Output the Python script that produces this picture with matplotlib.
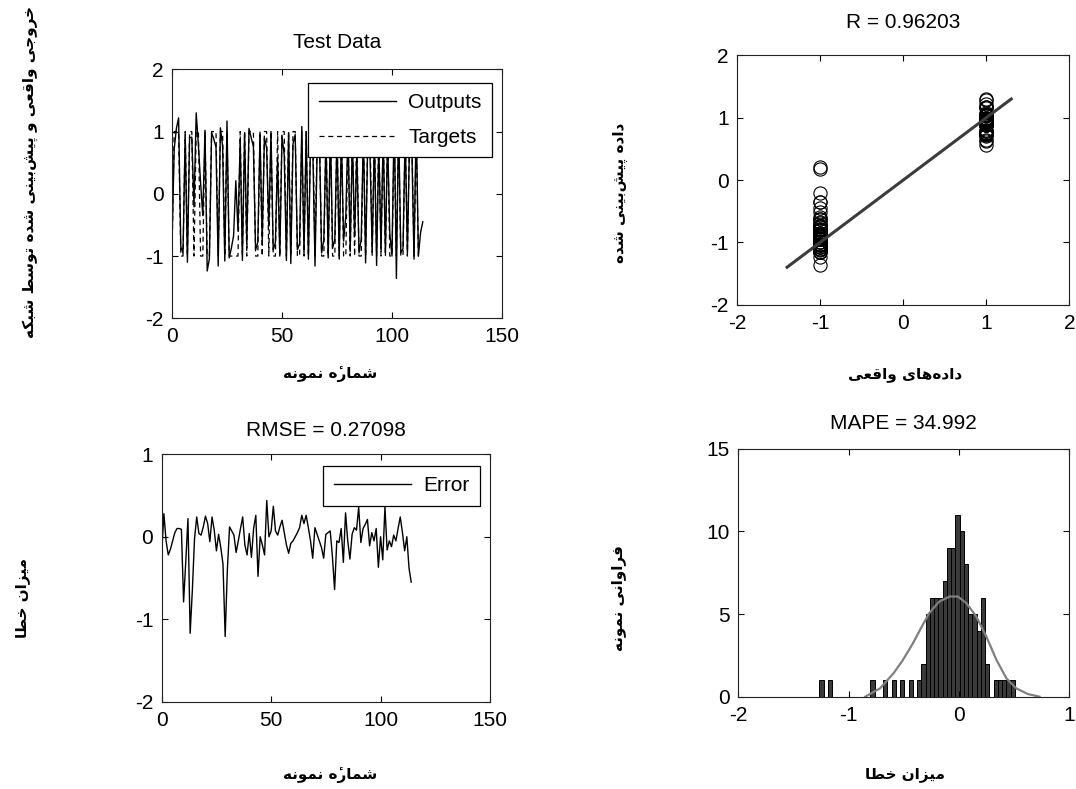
import matplotlib
matplotlib.use("Agg")
import matplotlib.pyplot as plt

plt.rcParams['font.family'] = ['Liberation Sans', 'DejaVu Sans']
plt.rcParams['axes.unicode_minus'] = False

# ---------------- data ----------------
targets = [-1, 1, 1, 1, -1, -1, 1, -1, 1, 1,
           -1, 1, 1, -1, -1, 1, -1, -1, 1, 1,
           1, -1, 1, 1, -1, 1, -1, -1, -1, -1,
           -1, 1, -1, 1, -1, 1, 1, 1, -1, -1,
           1, -1, 1, 1, -1, 1, -1, -1, 1, -1,
           1, 1, -1, 1, -1, 1, 1, -1, -1, 1,
           -1, 1, -1, 1, 1, -1, 1, 1, -1, -1,
           1, -1, 1, -1, -1, 1, -1, 1, -1, -1,
           1, -1, 1, -1, 1, -1, -1, 1, -1, 1,
           1, -1, 1, -1, 1, -1, 1, -1, 1, -1,
           -1, 1, -1, 1, -1, -1, 1, -1, 1, 1,
           -1, 1, -1, -1, -1]

outputs = [-0.80, 0.72, 1.05, 1.22, -0.85, -0.95, 0.95, -1.10, 0.90, 0.91,
           -0.21, 1.30, 0.78, 0.17, -0.35, 1.02, -1.24, -1.04, 0.98, 0.88,
           0.75, -1.16, 1.06, 0.76, -1.08, 1.17, -1.03, -0.87, -0.67, 0.21,
           -0.60, 0.88, -1.07, 0.98, -0.81, 1.05, 0.90, 0.76, -0.90, -0.78,
           0.96, -0.75, 0.90, 0.74, -0.52, 1.00, -0.90, -0.78, 0.56, -1.00,
           0.93, 0.63, -1.07, 0.98, -1.12, 0.80, 0.95, -0.90, -0.80, 1.08,
           -0.95, 1.00, -1.05, 0.89, 0.74, -1.16, 0.74, 0.89, -0.95, -0.74,
           0.89, -1.03, 1.05, -0.87, -0.74, 0.97, -1.05, 0.93, -0.76, -0.36,
           1.05, -0.93, 0.90, -0.69, 0.71, -0.95, -0.73, 0.97, -1.11, 0.92,
           0.64, -0.93, 0.90, -1.15, 0.79, -0.89, 0.95, -0.95, 0.90, -0.63,
           -1.00, 1.28, -1.36, 1.16, -0.95, -0.88, 0.98, -0.95, 0.90, 0.76,
           -1.05, 1.17, -1.00, -0.62, -0.45]

errors = [-0.20, 0.28, -0.05, -0.22, -0.15, -0.05, 0.05, 0.10, 0.10, 0.09,
          -0.79, -0.30, 0.22, -1.17, -0.65, -0.02, 0.24, 0.04, 0.02, 0.12,
          0.25, 0.16, -0.06, 0.24, 0.08, -0.17, 0.03, -0.13, -0.33, -1.21,
          -0.40, 0.12, 0.07, 0.02, -0.19, -0.05, 0.10, 0.24, -0.10, -0.22,
          0.04, -0.25, 0.10, 0.26, -0.48, 0.00, -0.10, -0.22, 0.44, 0.00,
          0.07, 0.37, 0.07, 0.02, 0.12, 0.20, 0.05, -0.10, -0.20, -0.08,
          -0.05, 0.00, 0.05, 0.11, 0.26, 0.16, 0.26, 0.11, -0.05, -0.26,
          0.11, 0.03, -0.05, -0.13, -0.26, 0.03, 0.05, 0.07, -0.24, -0.64,
          -0.05, -0.07, 0.10, -0.31, 0.29, -0.05, -0.27, 0.03, 0.11, 0.08,
          0.36, -0.07, 0.10, 0.15, 0.21, -0.11, 0.05, -0.05, 0.10, -0.37,
          0.00, -0.28, 0.36, -0.16, -0.05, -0.12, 0.02, -0.05, 0.10, 0.24,
          0.05, -0.17, 0.00, -0.38, -0.55]

samples = list(range(len(errors)))

fit_line_x = [-1.4, 1.3]
fit_line_y = [-1.4, 1.3]

hist_centers = [-1.245, -1.168, -0.783, -0.668, -0.591, -0.514, -0.437, -0.360,
                -0.321, -0.283, -0.244, -0.206, -0.167, -0.129, -0.090, -0.052,
                -0.013, 0.026, 0.064, 0.103, 0.141, 0.180, 0.218, 0.257,
                0.334, 0.372, 0.411, 0.449, 0.488]
hist_counts = [1, 1, 1, 1, 1, 1, 1, 1,
               2, 5, 6, 6, 6, 7, 9, 9,
               11, 10, 8, 5, 5, 4, 6, 2,
               1, 1, 1, 1, 1]
hist_width = 0.0385

curve_x = [-0.85, -0.716, -0.594, -0.51, -0.42, -0.34, -0.27, -0.18, -0.085,
           -0.01, 0.067, 0.157, 0.248, 0.34, 0.43, 0.52, 0.625, 0.73]
curve_y = [0.0, 0.5, 1.41, 2.2, 3.2, 4.2, 5.05, 5.75, 6.06,
           6.06, 5.66, 4.85, 3.64, 2.22, 1.11, 0.5, 0.16, 0.0]

title_tl = "Test Data"
title_tr = "R = 0.96203"
title_bl = "RMSE = 0.27098"
title_br = "MAPE = 34.992"

lbl_tl_y = "خروجی واقعی و پیش\u200cبینی شده توسط شبکه"
lbl_sample = "شمارۀ نمونه"
lbl_tr_y = "داده پیش\u200cبینی شده"
lbl_tr_x = "داده\u200cهای واقعی"
lbl_err = "میزان خطا"
lbl_freq = "فراوانی نمونه"

# ---------------- simple Persian shaping (contextual forms + visual order) ----------------
FORMS = {
    'ا': ('\uFE8D', '\uFE8E', None, None),
    'ب': ('\uFE8F', '\uFE90', '\uFE91', '\uFE92'),
    'پ': ('\uFB56', '\uFB57', '\uFB58', '\uFB59'),
    'ت': ('\uFE95', '\uFE96', '\uFE97', '\uFE98'),
    'ج': ('\uFE9D', '\uFE9E', '\uFE9F', '\uFEA0'),
    'خ': ('\uFEA5', '\uFEA6', '\uFEA7', '\uFEA8'),
    'د': ('\uFEA9', '\uFEAA', None, None),
    'ر': ('\uFEAD', '\uFEAE', None, None),
    'ز': ('\uFEAF', '\uFEB0', None, None),
    'س': ('\uFEB1', '\uFEB2', '\uFEB3', '\uFEB4'),
    'ش': ('\uFEB5', '\uFEB6', '\uFEB7', '\uFEB8'),
    'ط': ('\uFEC1', '\uFEC2', '\uFEC3', '\uFEC4'),
    'ع': ('\uFEC9', '\uFECA', '\uFECB', '\uFECC'),
    'ف': ('\uFED1', '\uFED2', '\uFED3', '\uFED4'),
    'ق': ('\uFED5', '\uFED6', '\uFED7', '\uFED8'),
    'ک': ('\uFB8E', '\uFB8F', '\uFB90', '\uFB91'),
    'م': ('\uFEE1', '\uFEE2', '\uFEE3', '\uFEE4'),
    'ن': ('\uFEE5', '\uFEE6', '\uFEE7', '\uFEE8'),
    'ه': ('\uFEE9', '\uFEEA', '\uFEEB', '\uFEEC'),
    'ۀ': ('\uFEE9', '\uFEEA', None, None),   # heh drawn with a hamza above
    'و': ('\uFEED', '\uFEEE', None, None),
    'ی': ('\uFBFC', '\uFBFD', '\uFBFE', '\uFBFF'),
}
MARKS = {'ۀ': '\u0654'}


def shape(text):
    out = []
    n = len(text)
    for i, ch in enumerate(text):
        if ch not in FORMS:
            if ch != '\u200c':
                out.append(ch)
            continue
        f = FORMS[ch]
        prev = text[i - 1] if i > 0 else ''
        nxt = text[i + 1] if i + 1 < n else ''
        jp = prev in FORMS and FORMS[prev][2] is not None
        jn = nxt in FORMS and f[2] is not None
        if jp and jn:
            g = f[3]
        elif jp:
            g = f[1]
        elif jn:
            g = f[2]
        else:
            g = f[0]
        if ch in MARKS:
            out.append(MARKS[ch])   # after reversal the mark follows its base
        out.append(g)
    return ''.join(reversed(out))


# ---------------- figure ----------------
W, H = 1076, 789
fig = plt.figure(figsize=(W / 100, H / 100), dpi=100)


def box(l, t, r, b):
    return [l / W, 1 - b / H, (r - l) / W, (b - t) / H]


FS = 15


def style(ax):
    ax.tick_params(direction='in', top=True, right=True, length=4, width=0.8,
                   labelsize=FS)
    ax.tick_params(axis='x', pad=6.5)
    ax.tick_params(axis='y', pad=6)
    for s in ax.spines.values():
        s.set_linewidth(0.8)
        s.set_color('#222222')


legkw = dict(borderaxespad=0, fancybox=False, edgecolor='black', framealpha=1,
             fontsize=FS, handlelength=3.7, handletextpad=0.6, borderpad=0.5)

# Top-left: test data
ax1 = fig.add_axes(box(172, 69.3, 502, 318.3))
ax1.plot(samples, outputs, color='black', lw=1.0, label='Outputs')
ax1.plot(samples, targets, color='black', lw=0.9, ls=(0, (4, 3)), label='Targets')
ax1.set_xlim(0, 150)
ax1.set_ylim(-2, 2)
ax1.set_xticks([0, 50, 100, 150])
ax1.set_yticks([-2, -1, 0, 1, 2])
style(ax1)
ax1.set_title(title_tl, fontsize=FS, y=(318.3 - 42) / 249, va='center', pad=0)
leg1 = ax1.legend(loc='upper right', bbox_to_anchor=((492 - 172) / 330, (318.3 - 83) / 249),
                  labelspacing=0.75, **legkw)
leg1.get_frame().set_linewidth(0.9)

# Top-right: scatter
ax2 = fig.add_axes(box(737.3, 55.4, 1069.3, 304.6))
ax2.plot(targets, outputs, ls='none', marker='o', mfc='none', mec='black', ms=9.5, mew=0.8)
ax2.plot(fit_line_x, fit_line_y, color='#3c3c3c', lw=2.2)
ax2.set_xlim(-2, 2)
ax2.set_ylim(-2, 2)
ax2.set_xticks([-2, -1, 0, 1, 2])
ax2.set_yticks([-2, -1, 0, 1, 2])
style(ax2)
ax2.set_title(title_tr, fontsize=FS, y=(304.6 - 22) / 249.2, va='center', pad=0)

# Bottom-left: error
ax3 = fig.add_axes(box(161.7, 454.3, 490, 701.7))
ax3.plot(samples, errors, color='black', lw=1.0, label='Error')
ax3.set_xlim(0, 150)
ax3.set_ylim(-2, 1)
ax3.set_xticks([0, 50, 100, 150])
ax3.set_yticks([-2, -1, 0, 1])
style(ax3)
ax3.set_title(title_bl, fontsize=FS, y=(701.7 - 431) / 247.4, va='center', pad=0)
leg3 = ax3.legend(loc='upper right', bbox_to_anchor=((480 - 161.7) / 328.3, (701.7 - 466) / 247.4),
                  **legkw)
leg3.get_frame().set_linewidth(0.9)

# Bottom-right: histogram
ax4 = fig.add_axes(box(738.3, 448.7, 1069.3, 696.7))
ax4.bar(hist_centers, hist_counts, width=hist_width, color='#3a3a3a',
        edgecolor='black', linewidth=0.7)
ax4.plot(curve_x, curve_y, color='#808080', lw=1.6)
ax4.set_xlim(-2, 1)
ax4.set_ylim(0, 15)
ax4.set_xticks([-2, -1, 0, 1])
ax4.set_yticks([0, 5, 10, 15])
style(ax4)
ax4.set_title(title_br, fontsize=FS, y=(696.7 - 424) / 248, va='center', pad=0)

# Persian labels
PFS = 11
pkw = dict(family=['DejaVu Sans'], fontweight='bold', fontsize=PFS, ha='center', va='center')
fig.text(30 / W, 1 - 172 / H, shape(lbl_tl_y), rotation=90, **pkw)
fig.text(330 / W, 1 - 374 / H, shape(lbl_sample), **pkw)
fig.text(620 / W, 1 - 193 / H, shape(lbl_tr_y), rotation=90, **pkw)
fig.text(905 / W, 1 - 375 / H, shape(lbl_tr_x), **pkw)
fig.text(23 / W, 1 - 598 / H, shape(lbl_err), rotation=90, **pkw)
fig.text(330 / W, 1 - 775 / H, shape(lbl_sample), **pkw)
fig.text(618 / W, 1 - 598 / H, shape(lbl_freq), rotation=90, **pkw)
fig.text(905 / W, 1 - 775 / H, shape(lbl_err), **pkw)

fig.savefig('out.png', dpi=100)
